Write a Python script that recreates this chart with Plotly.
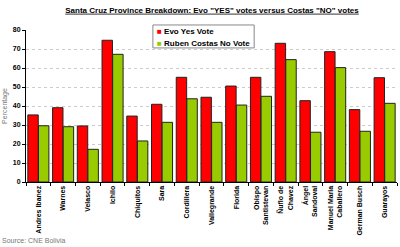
import plotly.graph_objects as go

categories = ["Andres Ibanez", "Warnes", "Velasco", "Ichilo", "Chiquitos", "Sara",
              "Cordillera", "Vallegrande", "Florida", "Obispo<br>Santistevan",
              "Ñuflo de<br>Chavez", "Ángel<br>Sandoval", "Manuel Maria<br>Caballero",
              "German Busch", "Guarayos"]
evo_yes = [35.3, 39.1, 29.5, 74.6, 34.7, 40.9, 55.1, 44.6, 50.5, 55.1, 73.0, 42.8, 68.6, 38.1, 54.9]
costas_no = [29.6, 29.1, 17.2, 67.2, 21.6, 31.4, 43.8, 31.4, 40.5, 45.1, 64.4, 26.2, 60.2, 26.7, 41.4]
y_ticks = [0, 10, 20, 30, 40, 50, 60, 70, 80]
series_names = ["Evo Yes Vote", "Ruben Costas No Vote"]
series_colors = ["#ff0000", "#99cc00"]

fig = go.Figure()
for name, vals, col in zip(series_names, [evo_yes, costas_no], series_colors):
    fig.add_trace(go.Bar(x=categories, y=vals, name=name,
                         marker=dict(color=col, line=dict(color="#222", width=1))))

fig.update_layout(
    width=400, height=247,
    margin=dict(l=26, r=3, t=30, b=65),
    paper_bgcolor="white", plot_bgcolor="white",
    barmode="group", bargap=0.14, bargroupgap=0.02,
    font=dict(family="Arial, Liberation Sans, sans-serif", size=7, color="black"),
    title=dict(text="<u><b>Santa Cruz Province Breakdown: Evo \"YES\" votes versus Costas \"NO\" votes</b></u>",
               x=0.53, xanchor="center", y=0.96, yanchor="middle",
               font=dict(size=8, color="black")),
    showlegend=False,
)
fig.update_xaxes(showline=True, linecolor="black", linewidth=1, tickangle=-90,
                 ticks="outside", ticklen=3, tickcolor="black", tickson="boundaries",
                 tickfont=dict(size=7, family="Arial, sans-serif", color="black", weight="bold"),
                 showgrid=False)
fig.update_yaxes(range=[0, 80], tickvals=y_ticks, showline=True, linecolor="black", linewidth=1,
                 ticks="outside", ticklen=3, tickcolor="black",
                 showgrid=True, gridcolor="#cccccc", griddash="dot", gridwidth=1,
                 tickfont=dict(size=7, color="black", weight="bold"),
                 title=dict(text="Percentage", font=dict(size=7, color="#777"), standoff=4),
                 zeroline=False)

# custom compact legend
fig.add_shape(type="rect", xref="paper", yref="paper", x0=0.342, x1=0.615, y0=0.882, y1=1.033,
              line=dict(color="#888", width=1), fillcolor="white", layer="above")
for i, (name, col) in enumerate(zip(series_names, series_colors)):
    fig.add_annotation(text=f"<span style='color:{col}'>■</span> <b>{name}</b>",
                       xref="paper", yref="paper", x=0.347, y=0.993 - i * 0.079,
                       xanchor="left", yanchor="middle", showarrow=False,
                       font=dict(size=8, color="black"))

fig.add_annotation(text="Source: CNE Bolivia", xref="paper", yref="paper",
                   x=-0.07, y=-0.385, xanchor="left", yanchor="middle", showarrow=False,
                   font=dict(size=7, color="#777"))
fig.write_html("out.html")
